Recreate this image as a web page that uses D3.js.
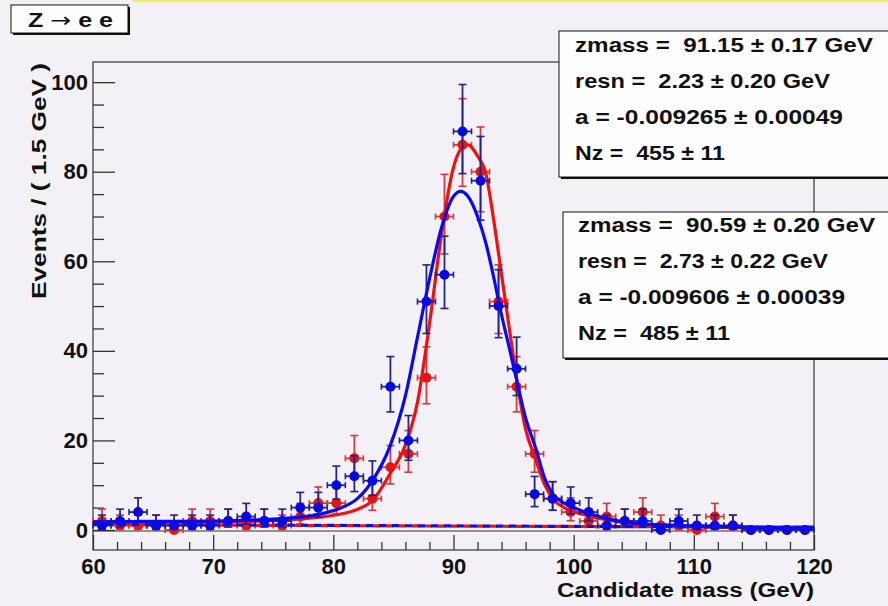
<!DOCTYPE html>
<html><head><meta charset="utf-8">
<script src="https://cdn.jsdelivr.net/npm/d3@7"></script>
<style>body{margin:0;background:#f4f1f6;} svg{display:block;} text{font-family:"Liberation Sans",Arial,sans-serif;font-weight:bold;}</style>
</head><body><svg id="c" width="888" height="606"></svg>
<script>
// ---- data ----
const massBins = [60.75,62.25,63.75,65.25,66.75,68.25,69.75,71.25,72.75,74.25,
  75.75,77.25,78.75,80.25,81.75,83.25,84.75,86.25,87.75,89.25,
  90.75,92.25,93.75,95.25,96.75,98.25,99.75,101.25,102.75,104.25,
  105.75,107.25,108.75,110.25,111.75,113.25,114.75,116.25,117.75,119.25];
const redCounts  = [2,1,1,1,0,2,2,2,1,2, 1,3,6,6,16,7,14,17,34,70, 86,80,51,32,17,7,4,2,3,2, 4,1,1,0,3,1,0,0,0,0];
const blueCounts = [1,2,4,1,1,1,1,2,3,2, 2,5,5,10,12,11,32,20,51,57, 89,78,50,36,8,7,6,4,1,2, 2,0,2,1,1,1,0,0,0,0];
const fitMass = [60,65,70,74,77,79,80.5,82,83.3,84.7,86,87,88,89,90,90.6,91.2,92,92.7,93.3,94,94.7,95.3,96,96.8,97.6,98.4,99.2,100,101.3,102.7,104.7,107,110,115,120];
const redFit  = [1.6,1.7,1.8,2.0,2.4,2.9,3.5,4.6,6.7,12.5,19,28.5,46,66,81,85,86,83.5,79.5,70,57,44,33,22.5,16,10,6.6,5.0,4.1,3.1,2.3,1.5,1.05,0.75,0.5,0.35];
const blueFit = [1.8,1.9,2.0,2.3,2.8,3.6,4.8,7.0,11.2,18.6,30,43,56,67.5,74.5,75.6,74.5,70,64,57,48,40,33,25,18.6,11.5,7.6,6.0,5.0,3.7,2.6,1.6,1.2,0.9,0.6,0.4];
const bkgMass = [60,70,80,90,100,110,120];
const redBkg  = [1.2,1.08,0.97,0.87,0.78,0.70,0.63];
const blueBkg = [1.3,1.15,1.02,0.9,0.8,0.7,0.62];
const xTicks = [60,70,80,90,100,110,120];
const yTicks = [0,20,40,60,80,100];
const redStats  = ["zmass =  91.15 \u00b1 0.17 GeV","resn =  2.23 \u00b1 0.20 GeV","a = -0.009265 \u00b1 0.00049","Nz =  455 \u00b1 11"];
const blueStats = ["zmass =  90.59 \u00b1 0.20 GeV","resn =  2.73 \u00b1 0.22 GeV","a = -0.009606 \u00b1 0.00039","Nz =  485 \u00b1 11"];
const titleParts = ["Z ", "\u2192", " e e"];
const xTitle = "Candidate mass (GeV)";
const yTitle = "Events / ( 1.5 GeV )";
const binWidth = 1.5;

// ---- layout ----
const svg = d3.select("#c");
const W = 888, H = 606;
const L = 93, R = 814, T = 62, B = 550;
svg.append("rect").attr("width",W).attr("height",H).attr("fill","#f4f1f6");
svg.append("rect").attr("x",133).attr("y",0).attr("width",W-133).attr("height",2).attr("fill","#f3ea6c");
svg.append("rect").attr("x",133).attr("y",2).attr("width",W-133).attr("height",3).attr("fill","#f6f3e6");

const x = d3.scaleLinear().domain([60,120]).range([L,R]);
const y = d3.scaleLinear().domain([-4.47,104.5]).range([B,T]);

// frame
svg.append("rect").attr("x",L).attr("y",T).attr("width",R-L).attr("height",B-T)
  .attr("fill","none").attr("stroke","#333").attr("stroke-width",1.2);

// axes
const minorX = d3.range(62,120,2).filter(v=>v%10!==0);
const minorY = d3.range(5,101,5).filter(v=>v%20!==0);
svg.append("g").attr("transform",`translate(0,${B})`)
  .call(d3.axisBottom(x).tickValues(xTicks).tickSizeInner(-15).tickSizeOuter(0).tickPadding(8).tickFormat(d3.format("d")));
svg.append("g").attr("transform",`translate(0,${B})`)
  .call(d3.axisBottom(x).tickValues(minorX).tickSizeInner(-8).tickSizeOuter(0).tickFormat(""));
svg.append("g").attr("transform",`translate(${L},0)`)
  .call(d3.axisLeft(y).tickValues(yTicks).tickSizeInner(-22).tickSizeOuter(0).tickPadding(5).tickFormat(d3.format("d")));
svg.append("g").attr("transform",`translate(${L},0)`)
  .call(d3.axisLeft(y).tickValues(minorY).tickSizeInner(-11).tickSizeOuter(0).tickFormat(""));
svg.selectAll(".domain").remove();
svg.selectAll(".tick line").attr("stroke","#333").attr("stroke-width",1.3);
svg.selectAll(".tick text").attr("font-size",22).attr("font-family","Liberation Sans, Arial, sans-serif")
  .attr("font-weight","bold").attr("fill","#111");

// zero line
svg.append("line").attr("x1",L).attr("x2",R).attr("y1",y(0)+1).attr("y2",y(0)+1).attr("stroke","#333").attr("stroke-width",1.2);

// axis titles
svg.append("text").attr("x",R).attr("y",597).attr("text-anchor","end").attr("font-size",20)
  .attr("textLength",257).attr("lengthAdjust","spacingAndGlyphs").attr("fill","#111").text(xTitle);
svg.append("text").attr("transform","translate(46,63) rotate(-90)").attr("text-anchor","end").attr("font-size",20)
  .attr("textLength",236).attr("lengthAdjust","spacingAndGlyphs").attr("fill","#111").text(yTitle);

// helpers
function poisHi(n){ return n + 1 + Math.sqrt(n + 0.75); }
function poisLo(n){ return n > 0 ? n - Math.sqrt(n - 0.25) : 0; }

const plot = svg.append("g");
function drawData(counts, barColor, dotColor){
  const g = plot.append("g");
  const pts = massBins.map((m,i)=>({m, n:counts[i]}));
  pts.forEach(p=>{
    const cx = x(p.m), cy = y(p.n);
    const x0 = x(p.m - binWidth/2), x1 = x(p.m + binWidth/2);
    g.append("line").attr("x1",x0).attr("x2",x1).attr("y1",cy).attr("y2",cy).attr("stroke",barColor).attr("stroke-width",1.8);
    g.append("line").attr("x1",x0).attr("x2",x0).attr("y1",cy-3).attr("y2",cy+3).attr("stroke",barColor).attr("stroke-width",1.6);
    g.append("line").attr("x1",x1).attr("x2",x1).attr("y1",cy-3).attr("y2",cy+3).attr("stroke",barColor).attr("stroke-width",1.6);
    if(p.n>0){
      const yh = y(poisHi(p.n)), yl = y(poisLo(p.n));
      g.append("line").attr("x1",cx).attr("x2",cx).attr("y1",yh).attr("y2",yl).attr("stroke",barColor).attr("stroke-width",1.8);
      g.append("line").attr("x1",cx-4).attr("x2",cx+4).attr("y1",yh).attr("y2",yh).attr("stroke",barColor).attr("stroke-width",1.6);
      g.append("line").attr("x1",cx-4).attr("x2",cx+4).attr("y1",yl).attr("y2",yl).attr("stroke",barColor).attr("stroke-width",1.6);
    }
  });
  g.selectAll("circle").data(pts).join("circle")
    .attr("cx",d=>x(d.m)).attr("cy",d=>y(d.n)).attr("r",5).attr("fill",dotColor);
}
function drawCurve(ms, vals, color, dashed, offset){
  const line = d3.line().x(d=>x(d[0])).y(d=>y(d[1])).curve(d3.curveMonotoneX);
  const p = plot.append("path").datum(ms.map((m,i)=>[m,vals[i]])).attr("d",line)
    .attr("fill","none").attr("stroke",color).attr("stroke-width",3.2);
  if(dashed) p.attr("stroke-dasharray","7,6").attr("stroke-dashoffset",offset||0);
}

drawData(redCounts, "#d43a3a", "#e61414");
drawCurve(bkgMass, redBkg, "#e01818", true, 6);
drawCurve(fitMass, redFit, "#f01010", false);
drawData(blueCounts, "#23238c", "#0808e0");
drawCurve(bkgMass, blueBkg, "#1010dd", true, 0);
drawCurve(fitMass, blueFit, "#0a0aee", false);

// title box
function box(x0,y0,w,h){
  svg.append("rect").attr("x",x0+2).attr("y",y0+2).attr("width",w).attr("height",h).attr("fill","#111");
  svg.append("rect").attr("x",x0).attr("y",y0).attr("width",w).attr("height",h).attr("fill","#fefefe").attr("stroke","#111").attr("stroke-width",1);
}
box(11,5,117,28);
const tt = svg.append("text").attr("x",28).attr("y",27).attr("font-size",20).attr("fill","#111")
  .style("white-space","pre");
tt.append("tspan").text(titleParts[0]);
tt.append("tspan").attr("font-family","DejaVu Sans").attr("font-weight","normal").attr("font-size",20).text(titleParts[1]);
tt.append("tspan").text(titleParts[2]);
tt.attr("textLength",85).attr("lengthAdjust","spacingAndGlyphs");

// stats boxes
const redW = [298,255,268,150], blueW = [297,250,267,152];
function stats(lines, widths, x0, y0, tx, baseY){
  box(x0,y0,360,146);
  lines.forEach((s,i)=>{
    svg.append("text").attr("x",tx).attr("y",baseY + i*36.2).attr("font-size",20)
      .attr("textLength",widths[i]).attr("lengthAdjust","spacingAndGlyphs")
      .style("white-space","pre").attr("fill","#111").text(s);
  });
}
stats(redStats, redW, 559, 31, 575, 51.5);
stats(blueStats, blueW, 563, 212, 578, 231.5);
</script></body></html>
